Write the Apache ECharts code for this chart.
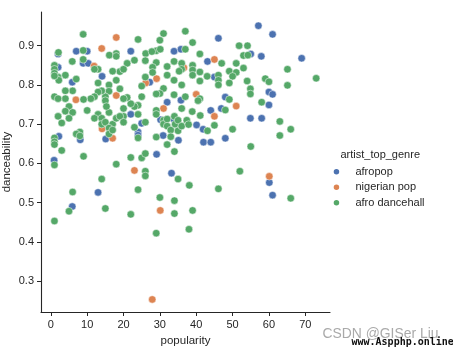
<!DOCTYPE html>
<html>
<head>
<meta charset="utf-8">
<script src="https://cdn.jsdelivr.net/npm/echarts@6/dist/echarts.min.js"></script>
<style>html,body{margin:0;padding:0;background:#fff}#c{width:453px;height:350px}</style>
</head>
<body>
<div id="c"></div>
<script>
// [popularity, danceability]
var afropop = [[57.1,0.951],[61,0.929],[46.1,0.919],[69,0.868],[57.9,0.873],[55,0.879],[43.1,0.86],[45,0.82],[33.9,0.886],[35.8,0.891],[22,0.886],[7,0.886],[10,0.886],[2,0.879],[2,0.845],[8.9,0.855],[10.3,0.855],[14.1,0.822],[5.9,0.807],[27.2,0.807],[35.8,0.761],[32,0.756],[48,0.769],[46.9,0.74],[44,0.735],[60,0.782],[61,0.776],[60,0.749],[54.9,0.715],[58,0.715],[22,0.725],[25,0.702],[24,0.68],[24,0.672],[30.2,0.711],[33.8,0.713],[30.9,0.671],[35.1,0.659],[40.1,0.698],[41.9,0.687],[42,0.654],[44,0.654],[48,0.664],[2.2,0.669],[15.1,0.662],[8.1,0.66],[0.9,0.608],[29.1,0.623],[33.2,0.575],[13,0.526],[5.9,0.49],[60.1,0.551],[61,0.519]];
var nigerianPop = [[18,0.921],[14,0.893],[11.9,0.848],[45,0.865],[29.1,0.816],[26.1,0.805],[36.6,0.844],[6.9,0.762],[18,0.773],[31,0.74],[40,0.776],[51,0.746],[45,0.72],[14.1,0.688],[17,0.664],[23,0.582],[30.1,0.48],[60.1,0.567],[27.9,0.253]];
var afroDancehall = [[8.9,0.929],[31,0.931],[37,0.937],[30,0.914],[24,0.916],[39,0.908],[51.8,0.9],[54.1,0.9],[29,0.887],[30.1,0.891],[37,0.891],[26.1,0.88],[27.8,0.885],[2.1,0.883],[8.9,0.888],[8.9,0.865],[5.9,0.86],[16.1,0.876],[18,0.88],[18,0.873],[21,0.855],[23,0.863],[26,0.862],[29,0.857],[32,0.847],[33.9,0.86],[36,0.855],[36,0.84],[35.3,0.835],[41,0.879],[39,0.85],[39,0.838],[39,0.825],[41,0.833],[43,0.822],[47,0.855],[51,0.855],[53,0.875],[54.2,0.876],[53,0.843],[49.1,0.835],[51,0.832],[50,0.822],[46.1,0.825],[46.1,0.812],[46.1,0.8],[49.1,0.805],[54,0.81],[54.9,0.79],[54.9,0.777],[59,0.816],[60,0.808],[65.1,0.84],[65.1,0.799],[73,0.817],[58,0.756],[49.1,0.763],[48,0.736],[41,0.81],[41,0.765],[40.5,0.76],[36,0.8],[36,0.74],[37,0.77],[33.9,0.812],[33.9,0.775],[32,0.825],[31,0.791],[30,0.778],[29,0.777],[28,0.845],[28,0.832],[25,0.797],[26,0.82],[24,0.748],[25,0.77],[23,0.745],[22,0.752],[21,0.768],[20,0.765],[20,0.74],[20,0.72],[19,0.79],[19,0.834],[20,0.84],[18,0.812],[17,0.835],[16,0.8],[16,0.784],[15,0.77],[15,0.76],[14,0.785],[13,0.805],[13,0.782],[12,0.77],[13,0.84],[12,0.84],[11,0.765],[9,0.763],[4,0.825],[2,0.82],[2.2,0.812],[1,0.85],[1,0.84],[1,0.83],[1,0.823],[7,0.815],[6,0.785],[4,0.785],[4,0.765],[1,0.77],[2,0.765],[5,0.745],[4,0.733],[6,0.73],[2,0.72],[5,0.715],[3,0.703],[10,0.735],[13,0.725],[12,0.715],[14,0.715],[14,0.7],[15,0.705],[16,0.73],[15.3,0.745],[17,0.7],[18,0.715],[19,0.72],[20,0.705],[16,0.69],[16,0.675],[17,0.685],[8,0.68],[7,0.675],[8,0.67],[1,0.665],[1,0.655],[1,0.648],[3,0.633],[9,0.618],[1,0.596],[6,0.527],[5,0.478],[1,0.453],[14,0.56],[15,0.485],[18,0.598],[22,0.615],[22,0.47],[24,0.533],[25,0.614],[26,0.625],[26,0.58],[26,0.568],[24,0.665],[23,0.692],[24,0.725],[26,0.705],[29,0.735],[29,0.725],[29,0.667],[29,0.422],[30,0.513],[31,0.71],[31,0.7],[32,0.713],[32,0.695],[32,0.648],[33,0.685],[33,0.668],[34,0.72],[34.2,0.7],[34,0.63],[34,0.505],[34,0.472],[35,0.56],[35,0.71],[35,0.683],[36,0.695],[37.4,0.71],[37.9,0.699],[38.1,0.544],[38,0.432],[39,0.48],[38.9,0.732],[41.1,0.722],[43.1,0.683],[45,0.697],[50,0.687],[55,0.643],[52,0.58],[46.1,0.535],[63,0.707],[63,0.671],[66,0.687],[66,0.511]];
var genres = ['afropop', 'nigerian pop', 'afro dancehall'];
var xTicks = [0, 10, 20, 30, 40, 50, 60, 70];
var yTicks = [0.3, 0.4, 0.5, 0.6, 0.7, 0.8, 0.9];

var FONT = '"Liberation Sans", Arial, sans-serif';
var INK = '#262626';
var colors = ['#4C72B0', '#DD8452', '#55A868'];
var seriesData = [afropop, nigerianPop, afroDancehall];

var chart = echarts.init(document.getElementById('c'), null, {renderer: 'canvas'});
chart.setOption({
  animation: false,
  backgroundColor: '#fff',
  grid: {left: 41, top: 12, width: 289, height: 300, containLabel: false, outerBoundsMode: 'none'},
  xAxis: {
    type: 'value', min: -2.7, max: 76.8,
    name: 'popularity', nameLocation: 'middle', nameGap: 23, nameMoveOverlap: false,
    nameTextStyle: {fontFamily: FONT, fontSize: 11.5, color: INK},
    axisLine: {show: true, onZero: false, lineStyle: {color: INK, width: 1.1}},
    axisTick: {show: true, length: 4, lineStyle: {color: INK, width: 1}, customValues: xTicks},
    axisLabel: {fontFamily: FONT, fontSize: 11, color: INK, margin: 7, customValues: xTicks},
    splitLine: {show: false}
  },
  yAxis: {
    type: 'value', min: 0.221, max: 0.986,
    name: 'danceability', nameLocation: 'middle', nameGap: 28, nameMoveOverlap: false,
    nameTextStyle: {fontFamily: FONT, fontSize: 11.5, color: INK},
    axisLine: {show: true, onZero: false, lineStyle: {color: INK, width: 1.1}},
    axisTick: {show: true, length: 4, lineStyle: {color: INK, width: 1}, customValues: yTicks},
    axisLabel: {fontFamily: FONT, fontSize: 11, color: INK, margin: 7, customValues: yTicks,
      formatter: function (v) { return v.toFixed(1); }},
    splitLine: {show: false}
  },
  legend: {
    data: genres, orient: 'vertical', left: 331.7, top: 164.7, padding: 0,
    itemWidth: 28, itemHeight: 7.5, itemGap: 1.5, icon: 'circle',
    textStyle: {fontFamily: FONT, fontSize: 11, color: INK, lineHeight: 14},
    selectedMode: false
  },
  graphic: [
    {type: 'text', left: 340.5, top: 149, style: {text: 'artist_top_genre', font: '11px ' + FONT, fill: INK}},
    {type: 'text', left: 322.5, top: 327, style: {text: 'CSDN @GISer Liu', font: '13.9px ' + FONT, fill: 'rgba(140,140,140,0.75)'}},
    {type: 'text', left: 351.5, top: 337.5, style: {text: 'www.Aspphp.online', font: 'bold 10px "DejaVu Sans Mono", "Liberation Mono", monospace', fill: '#111'}}
  ],
  series: genres.map(function (g, i) {
    return {
      name: g, type: 'scatter', data: seriesData[i], symbol: 'circle', symbolSize: 7.5,
      itemStyle: {color: colors[i], borderColor: '#fff', borderWidth: 0.5, opacity: 1},
      emphasis: {disabled: true}
    };
  })
});
</script>
</body>
</html>
